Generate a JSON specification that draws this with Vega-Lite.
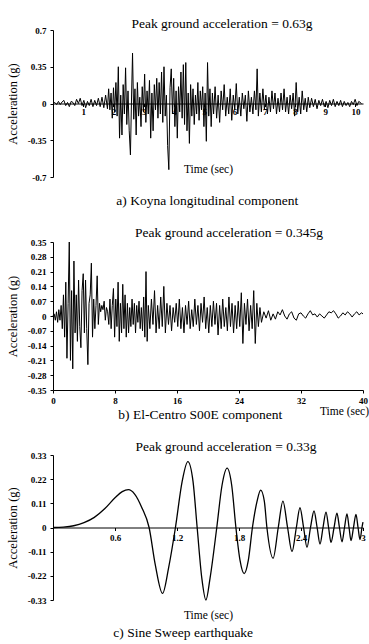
{
  "$schema": "https://vega.github.io/schema/vega-lite/v6.json",
  "background": "white",
  "padding": {"left": 5, "top": 16, "right": 2, "bottom": 2},
  "spacing": 65,
  "bounds": "flush",
  "config": {
    "view": {"stroke": null},
    "axis": {"grid": false, "domainColor": "black", "tickColor": "black", "labelColor": "black", "titleColor": "black", "labelFont": "Liberation Serif", "titleFont": "Liberation Serif", "labelFontSize": 9, "labelFontWeight": "bold", "titleFontWeight": "normal", "labelFlush": false, "labelOverlap": false, "tickSize": 3, "domainWidth": 1},
    "title": {"font": "Liberation Serif", "fontSize": 13.5, "fontWeight": "normal", "color": "black", "anchor": "middle", "baseline": "bottom"}
  },
  "vconcat": [
    {
      "width": 310, "height": 147,
      "title": {"text": "Peak ground acceleration = 0.63g", "dx": 14, "offset": -4},
      "layer": [
        {
          "data": {"values": [
            {"t":0,"a":0},{"t":0.06,"a":0.01},{"t":0.12,"a":-0.01},{"t":0.18,"a":0.02},{"t":0.24,"a":-0.01},{"t":0.3,"a":0.015},{"t":0.36,"a":0.03},{"t":0.42,"a":-0.02},{"t":0.48,"a":0.01},{"t":0.54,"a":-0.03},{"t":0.6,"a":0.02},{"t":0.66,"a":0.01},{"t":0.72,"a":-0.02},{"t":0.78,"a":0.04},{"t":0.84,"a":0},{"t":0.9,"a":0.05},{"t":0.96,"a":-0.02},{"t":1.02,"a":0.03},{"t":1.08,"a":-0.04},{"t":1.14,"a":0.02},{"t":1.2,"a":-0.02},{"t":1.26,"a":0.04},{"t":1.32,"a":-0.03},{"t":1.38,"a":0.03},{"t":1.44,"a":-0.02},{"t":1.5,"a":0.05},{"t":1.56,"a":-0.03},{"t":1.62,"a":0.06},{"t":1.68,"a":-0.04},{"t":1.74,"a":0.08},
            {"t":1.8,"a":-0.05},{"t":1.84,"a":0.14},{"t":1.88,"a":-0.06},{"t":1.92,"a":0.1},{"t":1.96,"a":-0.14},{"t":2.0,"a":0.15},{"t":2.04,"a":-0.08},{"t":2.08,"a":0.2},{"t":2.12,"a":-0.12},{"t":2.16,"a":0.35},{"t":2.2,"a":-0.33},{"t":2.24,"a":0.08},{"t":2.28,"a":-0.3},{"t":2.32,"a":0.18},{"t":2.36,"a":-0.1},{"t":2.4,"a":0.34},{"t":2.44,"a":-0.2},{"t":2.48,"a":0.12},{"t":2.52,"a":-0.26},{"t":2.56,"a":-0.49},{"t":2.6,"a":0.1},{"t":2.63,"a":0.48},{"t":2.67,"a":-0.15},{"t":2.71,"a":0.14},{"t":2.75,"a":-0.3},{"t":2.79,"a":0.2},{"t":2.83,"a":-0.12},{"t":2.87,"a":0.06},{"t":2.91,"a":-0.22},{"t":2.95,"a":0.16},{"t":2.99,"a":-0.08},
            {"t":3.03,"a":0.28},{"t":3.07,"a":-0.18},{"t":3.11,"a":0.12},{"t":3.15,"a":-0.1},{"t":3.19,"a":0.22},{"t":3.23,"a":-0.33},{"t":3.27,"a":0.1},{"t":3.31,"a":-0.26},{"t":3.35,"a":0.18},{"t":3.39,"a":-0.06},{"t":3.43,"a":0.24},{"t":3.47,"a":-0.14},{"t":3.51,"a":0.2},{"t":3.55,"a":-0.1},{"t":3.59,"a":0.3},{"t":3.63,"a":-0.18},{"t":3.67,"a":0.35},{"t":3.71,"a":-0.12},{"t":3.75,"a":0.08},{"t":3.79,"a":-0.4},{"t":3.83,"a":-0.63},{"t":3.87,"a":0.15},{"t":3.91,"a":0.33},{"t":3.95,"a":-0.1},{"t":3.99,"a":0.24},
            {"t":4.03,"a":-0.22},{"t":4.07,"a":0.12},{"t":4.11,"a":-0.33},{"t":4.15,"a":0.16},{"t":4.19,"a":-0.08},{"t":4.23,"a":0.3},{"t":4.27,"a":-0.14},{"t":4.31,"a":0.37},{"t":4.35,"a":-0.2},{"t":4.39,"a":0.39},{"t":4.43,"a":-0.26},{"t":4.47,"a":0.1},{"t":4.51,"a":-0.38},{"t":4.55,"a":0.18},{"t":4.59,"a":-0.12},{"t":4.63,"a":0.14},{"t":4.67,"a":-0.2},{"t":4.71,"a":0.08},{"t":4.75,"a":-0.1},{"t":4.79,"a":0.2},{"t":4.83,"a":-0.16},{"t":4.87,"a":0.12},{"t":4.91,"a":-0.06},{"t":4.95,"a":0.16},{"t":4.99,"a":-0.22},
            {"t":5.03,"a":0.1},{"t":5.07,"a":-0.36},{"t":5.11,"a":0.39},{"t":5.15,"a":-0.12},{"t":5.19,"a":0.14},{"t":5.23,"a":-0.22},{"t":5.27,"a":0.1},{"t":5.31,"a":-0.1},{"t":5.36,"a":0.16},{"t":5.41,"a":-0.14},{"t":5.46,"a":0.08},{"t":5.51,"a":-0.18},{"t":5.56,"a":0.12},{"t":5.61,"a":-0.06},{"t":5.66,"a":0.18},{"t":5.71,"a":-0.12},{"t":5.76,"a":0.06},{"t":5.81,"a":-0.1},{"t":5.86,"a":0.14},{"t":5.91,"a":-0.16},{"t":5.96,"a":0.08},
            {"t":6.01,"a":-0.06},{"t":6.06,"a":0.19},{"t":6.11,"a":-0.1},{"t":6.16,"a":0.06},{"t":6.21,"a":-0.12},{"t":6.26,"a":0.1},{"t":6.31,"a":-0.05},{"t":6.36,"a":0.08},{"t":6.41,"a":-0.17},{"t":6.46,"a":0.12},{"t":6.51,"a":-0.08},{"t":6.56,"a":0.06},{"t":6.61,"a":-0.1},{"t":6.66,"a":0.12},{"t":6.71,"a":-0.06},{"t":6.75,"a":0.33},{"t":6.79,"a":-0.12},{"t":6.84,"a":0.1},{"t":6.89,"a":-0.08},{"t":6.94,"a":0.14},{"t":6.99,"a":-0.06},
            {"t":7.04,"a":0.08},{"t":7.09,"a":-0.1},{"t":7.14,"a":0.06},{"t":7.19,"a":-0.08},{"t":7.24,"a":0.12},{"t":7.29,"a":-0.05},{"t":7.34,"a":0.1},{"t":7.39,"a":-0.1},{"t":7.44,"a":0.05},{"t":7.49,"a":-0.08},{"t":7.54,"a":0.1},{"t":7.59,"a":-0.06},{"t":7.64,"a":0.14},{"t":7.69,"a":-0.08},{"t":7.74,"a":0.06},{"t":7.79,"a":-0.1},{"t":7.84,"a":0.08},{"t":7.89,"a":-0.05},{"t":7.94,"a":0.1},{"t":7.99,"a":-0.12},
            {"t":8.04,"a":0.2},{"t":8.09,"a":-0.08},{"t":8.14,"a":0.06},{"t":8.19,"a":-0.1},{"t":8.24,"a":0.12},{"t":8.29,"a":-0.06},{"t":8.34,"a":0.05},{"t":8.39,"a":-0.08},{"t":8.44,"a":0.06},{"t":8.49,"a":-0.04},{"t":8.55,"a":0.05},{"t":8.61,"a":-0.03},{"t":8.67,"a":0.04},{"t":8.73,"a":-0.05},{"t":8.79,"a":0.03},{"t":8.85,"a":-0.02},{"t":8.91,"a":0.04},{"t":8.97,"a":-0.03},
            {"t":9.03,"a":0.02},{"t":9.09,"a":-0.04},{"t":9.15,"a":0.03},{"t":9.21,"a":-0.02},{"t":9.27,"a":0.04},{"t":9.33,"a":-0.03},{"t":9.39,"a":0.02},{"t":9.45,"a":-0.02},{"t":9.51,"a":0.03},{"t":9.57,"a":-0.03},{"t":9.63,"a":0.02},{"t":9.69,"a":-0.02},{"t":9.75,"a":0.01},{"t":9.81,"a":-0.03},{"t":9.87,"a":0.02},{"t":9.93,"a":-0.01},{"t":9.99,"a":0.04},{"t":10.05,"a":-0.02},{"t":10.11,"a":0.02},{"t":10.2,"a":0}
          ]},
          "mark": {"type": "line", "color": "black", "strokeWidth": 1},
          "encoding": {
            "x": {"field": "t", "type": "quantitative", "scale": {"domain": [0, 10.25], "nice": false, "zero": false},
                  "axis": {"orient": "bottom", "offset": -73.5, "values": [1,2,3,4,5,6,7,8,9,10], "tickCount": 40, "labelOverlap": false, "labelExpr": "format(datum.value, '~g')", "title": "Time (sec)", "titleFontSize": 11.5, "titleY": 60, "titleBaseline": "top", "labelPadding": 1}},
            "y": {"field": "a", "type": "quantitative", "scale": {"domain": [-0.7, 0.7], "nice": false},
                  "axis": {"values": [-0.7, -0.35, 0, 0.35, 0.7], "tickCount": 40, "labelOverlap": false, "labelExpr": "replace(format(datum.value, '~g'), '\u2212', '-')", "title": "Acceleration (g)", "titleFontSize": 12.5, "titleX": -34, "titleBaseline": "bottom", "labelPadding": 4}}
          }
        },
        {
          "data": {"values": [{"caption": "a)  Koyna longitudinal component", "t": 5.1, "a": -0.93}]},
          "mark": {"type": "text", "font": "Liberation Serif", "fontSize": 13.5, "align": "center", "baseline": "middle", "color": "black"},
          "encoding": {"x": {"field": "t", "type": "quantitative"}, "y": {"field": "a", "type": "quantitative"}, "text": {"field": "caption"}}
        }
      ]
    },
    {
      "width": 310, "height": 148,
      "title": {"text": "Peak ground acceleration = 0.345g", "dx": 21, "offset": -1},
      "layer": [
        {
          "data": {"values": [
            {"t":0,"a":0},{"t":0.15,"a":0.01},{"t":0.3,"a":-0.02},{"t":0.45,"a":0.02},{"t":0.6,"a":-0.03},{"t":0.75,"a":0.03},{"t":0.9,"a":-0.02},{"t":1.05,"a":0.05},{"t":1.2,"a":-0.06},
            {"t":1.35,"a":0.1},{"t":1.5,"a":-0.1},{"t":1.65,"a":0.16},{"t":1.8,"a":-0.2},{"t":1.95,"a":0.06},{"t":2.1,"a":0.35},{"t":2.25,"a":-0.21},{"t":2.4,"a":0.12},{"t":2.55,"a":-0.25},{"t":2.7,"a":0.26},{"t":2.85,"a":-0.08},{"t":3.0,"a":0.1},{"t":3.15,"a":-0.12},{"t":3.3,"a":0.17},{"t":3.45,"a":-0.05},{"t":3.6,"a":-0.15},{"t":3.75,"a":0.12},{"t":3.9,"a":0.2},{"t":4.05,"a":-0.08},{"t":4.2,"a":0.17},{"t":4.35,"a":-0.06},{"t":4.5,"a":-0.23},{"t":4.65,"a":0.06},{"t":4.8,"a":0.1},{"t":4.95,"a":0.25},{"t":5.1,"a":-0.1},{"t":5.25,"a":0.08},{"t":5.4,"a":-0.06},{"t":5.55,"a":0.05},{"t":5.7,"a":0.19},{"t":5.85,"a":-0.04},{"t":6.0,"a":0.06},{"t":6.15,"a":0.02},{"t":6.3,"a":0.05},{"t":6.45,"a":0.03},{"t":6.6,"a":0.07},{"t":6.75,"a":-0.02},{"t":6.9,"a":0.04},{"t":7.05,"a":0.02},
            {"t":7.2,"a":-0.04},{"t":7.35,"a":0.08},{"t":7.5,"a":-0.06},{"t":7.65,"a":0.05},{"t":7.8,"a":0.13},{"t":7.95,"a":-0.1},{"t":8.1,"a":0.08},{"t":8.25,"a":-0.05},{"t":8.4,"a":0.16},{"t":8.55,"a":-0.12},{"t":8.7,"a":0.06},{"t":8.85,"a":-0.08},{"t":9.0,"a":0.15},{"t":9.15,"a":-0.06},{"t":9.3,"a":0.1},{"t":9.45,"a":-0.1},{"t":9.6,"a":0.06},{"t":9.75,"a":-0.08},{"t":9.9,"a":0.04},{"t":10.05,"a":-0.05},{"t":10.2,"a":0.08},{"t":10.35,"a":-0.04},{"t":10.5,"a":0.06},{"t":10.65,"a":-0.08},{"t":10.8,"a":0.05},{"t":10.95,"a":-0.03},{"t":11.1,"a":0.07},{"t":11.25,"a":-0.06},{"t":11.4,"a":0.04},{"t":11.55,"a":-0.07},{"t":11.7,"a":0.09},{"t":11.85,"a":-0.1},{"t":12.0,"a":0.21},{"t":12.15,"a":-0.12},
            {"t":12.3,"a":0.05},{"t":12.5,"a":-0.06},{"t":12.7,"a":0.08},{"t":12.9,"a":-0.04},{"t":13.1,"a":0.12},{"t":13.3,"a":-0.08},{"t":13.5,"a":0.05},{"t":13.7,"a":-0.06},{"t":13.9,"a":0.09},{"t":14.1,"a":-0.05},{"t":14.3,"a":0.14},{"t":14.5,"a":-0.08},{"t":14.7,"a":0.06},{"t":14.9,"a":-0.04},{"t":15.1,"a":0.05},{"t":15.3,"a":-0.07},{"t":15.5,"a":0.04},{"t":15.7,"a":-0.03},{"t":15.9,"a":0.06},{"t":16.1,"a":-0.05},{"t":16.3,"a":0.08},{"t":16.5,"a":-0.06},{"t":16.7,"a":0.04},{"t":16.9,"a":-0.08},{"t":17.1,"a":0.05},{"t":17.3,"a":-0.04},{"t":17.5,"a":0.07},{"t":17.7,"a":-0.06},{"t":17.9,"a":0.03},{"t":18.1,"a":-0.05},{"t":18.3,"a":0.08},{"t":18.5,"a":-0.04},{"t":18.7,"a":0.05},{"t":18.9,"a":-0.07},{"t":19.1,"a":0.06},{"t":19.3,"a":-0.03},{"t":19.5,"a":0.09},{"t":19.7,"a":-0.06},{"t":19.9,"a":0.04},
            {"t":20.1,"a":-0.08},{"t":20.3,"a":0.05},{"t":20.5,"a":-0.05},{"t":20.7,"a":0.07},{"t":20.9,"a":-0.04},{"t":21.1,"a":0.06},{"t":21.3,"a":-0.09},{"t":21.5,"a":0.05},{"t":21.7,"a":-0.06},{"t":21.9,"a":0.08},{"t":22.1,"a":-0.05},{"t":22.3,"a":0.04},{"t":22.5,"a":-0.07},{"t":22.7,"a":0.09},{"t":22.9,"a":-0.05},{"t":23.1,"a":0.06},{"t":23.3,"a":-0.08},{"t":23.5,"a":0.05},{"t":23.7,"a":-0.06},{"t":23.9,"a":0.07},{"t":24.1,"a":-0.05},{"t":24.3,"a":0.11},{"t":24.5,"a":-0.13},{"t":24.7,"a":0.06},{"t":24.9,"a":-0.04},{"t":25.1,"a":0.08},{"t":25.3,"a":-0.07},{"t":25.5,"a":0.05},{"t":25.7,"a":-0.06},{"t":25.9,"a":0.12},{"t":26.1,"a":-0.13},{"t":26.3,"a":0.06},{"t":26.5,"a":-0.05},{"t":26.7,"a":0.04},{"t":26.9,"a":-0.03},
            {"t":27.2,"a":0.02},{"t":27.5,"a":-0.01},{"t":27.8,"a":0.025},{"t":28.1,"a":-0.02},{"t":28.4,"a":0.01},{"t":28.7,"a":-0.015},{"t":29.0,"a":0.02},{"t":29.3,"a":0.005},{"t":29.6,"a":0.03},{"t":29.9,"a":0.0},{"t":30.2,"a":-0.015},{"t":30.5,"a":0.01},{"t":30.8,"a":0.02},{"t":31.1,"a":-0.01},{"t":31.4,"a":-0.02},{"t":31.7,"a":0.01},{"t":32.0,"a":0.015},{"t":32.3,"a":0.0},{"t":32.6,"a":-0.01},{"t":32.9,"a":0.01},{"t":33.2,"a":0.025},{"t":33.5,"a":0.005},{"t":33.8,"a":0.01},{"t":34.1,"a":-0.005},{"t":34.4,"a":0.01},{"t":34.7,"a":0.0},{"t":35.0,"a":-0.01},{"t":35.3,"a":0.005},{"t":35.6,"a":0.02},{"t":35.9,"a":0.015},{"t":36.2,"a":0.025},{"t":36.5,"a":0.01},{"t":36.8,"a":-0.01},{"t":37.1,"a":0.0},{"t":37.4,"a":0.015},{"t":37.7,"a":0.005},{"t":38.0,"a":0.02},{"t":38.3,"a":0.01},{"t":38.6,"a":-0.005},{"t":38.9,"a":0.01},{"t":39.2,"a":0.02},{"t":39.5,"a":0.005},{"t":39.8,"a":0.015},{"t":40,"a":0.01}
          ]},
          "mark": {"type": "line", "color": "black", "strokeWidth": 1},
          "encoding": {
            "x": {"field": "t", "type": "quantitative", "scale": {"domain": [0, 40], "nice": false},
                  "axis": {"values": [0, 8, 16, 24, 32, 40], "tickCount": 40, "labelOverlap": false, "labelExpr": "format(datum.value, '~g')", "title": "Time (sec)", "titleFontSize": 11.5, "titleX": 291, "titleY": 15, "titleAlign": "center", "titleBaseline": "top", "labelPadding": 3}},
            "y": {"field": "a", "type": "quantitative", "scale": {"domain": [-0.35, 0.35], "nice": false},
                  "axis": {"values": [-0.35, -0.28, -0.21, -0.14, -0.07, 0, 0.07, 0.14, 0.21, 0.28, 0.35], "tickCount": 40, "labelOverlap": false, "labelExpr": "replace(format(datum.value, '~g'), '\u2212', '-')", "title": "Acceleration (g)", "titleFontSize": 12.5, "titleX": -34, "titleBaseline": "bottom", "labelPadding": 4}}
          }
        },
        {
          "data": {"values": [{"caption": "b) El-Centro  S00E  component", "t": 19, "a": -0.47}]},
          "mark": {"type": "text", "font": "Liberation Serif", "fontSize": 13.5, "align": "center", "baseline": "middle", "color": "black"},
          "encoding": {"x": {"field": "t", "type": "quantitative"}, "y": {"field": "a", "type": "quantitative"}, "text": {"field": "caption"}}
        }
      ]
    },
    {
      "width": 310, "height": 145,
      "title": {"text": "Peak ground acceleration = 0.33g", "dx": 18, "offset": -2},
      "layer": [
        {
          "data": {"values": [
            {"t":0,"a":0},{"t":0.1,"a":0.002},{"t":0.2,"a":0.008},{"t":0.3,"a":0.022},{"t":0.4,"a":0.046},{"t":0.5,"a":0.085},{"t":0.6,"a":0.135},{"t":0.67,"a":0.163},{"t":0.73,"a":0.172},{"t":0.79,"a":0.152},{"t":0.86,"a":0.09},{"t":0.93,"a":0},{"t":0.99,"a":-0.17},{"t":1.06,"a":-0.3},{"t":1.12,"a":-0.18},{"t":1.185,"a":0},{"t":1.25,"a":0.21},{"t":1.305,"a":0.3},{"t":1.355,"a":0.21},{"t":1.395,"a":0},{"t":1.44,"a":-0.23},{"t":1.48,"a":-0.33},{"t":1.52,"a":-0.23},{"t":1.585,"a":0},{"t":1.635,"a":0.19},{"t":1.685,"a":0.27},{"t":1.73,"a":0.19},{"t":1.77,"a":0},{"t":1.81,"a":-0.15},{"t":1.85,"a":-0.21},{"t":1.89,"a":-0.15},{"t":1.93,"a":0},{"t":1.975,"a":0.12},{"t":2.01,"a":0.17},{"t":2.045,"a":0.12},{"t":2.07,"a":0},{"t":2.13,"a":-0.14},{"t":2.18,"a":0},{"t":2.225,"a":0.12},{"t":2.27,"a":0},{"t":2.313,"a":-0.11},{"t":2.355,"a":0},{"t":2.39,"a":0.09},{"t":2.425,"a":0},{"t":2.458,"a":-0.09},{"t":2.492,"a":0},{"t":2.526,"a":0.075},{"t":2.556,"a":0},{"t":2.584,"a":-0.075},{"t":2.613,"a":0},{"t":2.642,"a":0.07},{"t":2.667,"a":0},{"t":2.69,"a":-0.068},{"t":2.72,"a":0},{"t":2.748,"a":0.065},{"t":2.772,"a":0},{"t":2.797,"a":-0.065},{"t":2.821,"a":0},{"t":2.845,"a":0.062},{"t":2.865,"a":0},{"t":2.884,"a":-0.06},{"t":2.908,"a":0},{"t":2.932,"a":0.06},{"t":2.952,"a":0},{"t":2.971,"a":-0.055},{"t":2.99,"a":0},{"t":3.0,"a":0.025}
          ]},
          "mark": {"type": "line", "color": "black", "strokeWidth": 1.3, "interpolate": "monotone"},
          "encoding": {
            "x": {"field": "t", "type": "quantitative", "scale": {"domain": [0, 3], "nice": false},
                  "axis": {"orient": "bottom", "offset": -72.5, "values": [0.6, 1.2, 1.8, 2.4, 3], "tickCount": 40, "labelOverlap": false, "labelExpr": "format(datum.value, '~g')", "title": "Time (sec)", "titleFontSize": 11.5, "titleY": 82, "titleBaseline": "top", "labelPadding": 3}},
            "y": {"field": "a", "type": "quantitative", "scale": {"domain": [-0.33, 0.33], "nice": false},
                  "axis": {"values": [-0.33, -0.22, -0.11, 0, 0.11, 0.22, 0.33], "tickCount": 40, "labelOverlap": false, "labelExpr": "replace(format(datum.value, '~g'), '\u2212', '-')", "title": "Acceleration (g)", "titleFontSize": 12.5, "titleX": -34, "titleBaseline": "bottom", "labelPadding": 4}}
          }
        },
        {
          "data": {"values": [{"caption": "c)  Sine Sweep earthquake", "t": 1.26, "a": -0.48}]},
          "mark": {"type": "text", "font": "Liberation Serif", "fontSize": 13.5, "align": "center", "baseline": "middle", "color": "black"},
          "encoding": {"x": {"field": "t", "type": "quantitative"}, "y": {"field": "a", "type": "quantitative"}, "text": {"field": "caption"}}
        }
      ]
    }
  ]
}
